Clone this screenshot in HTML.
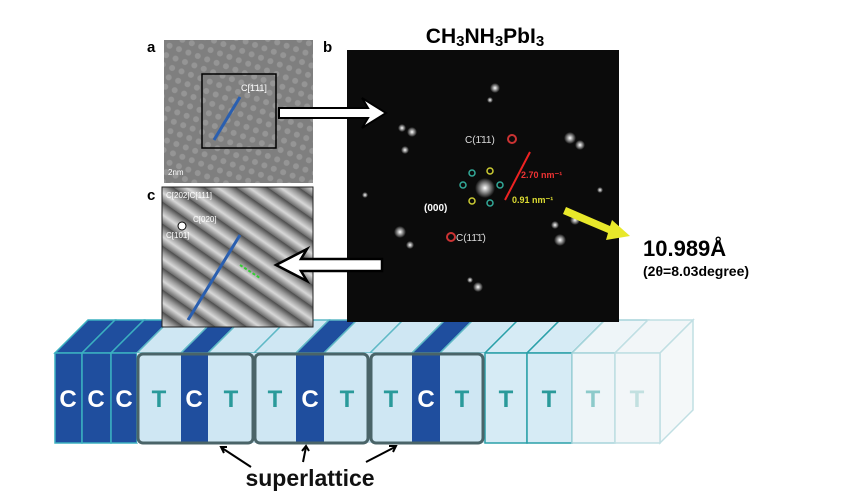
<!DOCTYPE html>
<html><head><meta charset="utf-8"><style>
html,body{margin:0;padding:0;background:#fff;width:845px;height:500px;overflow:hidden}
svg{display:block}
text{font-family:"Liberation Sans",sans-serif}
</style></head><body>
<svg width="845" height="500" viewBox="0 0 845 500" xmlns="http://www.w3.org/2000/svg">
<defs>
<pattern id="dots" width="10" height="10" patternUnits="userSpaceOnUse" patternTransform="rotate(20)">
<rect width="10" height="10" fill="#7f7f7f"/><circle cx="5" cy="5" r="3" fill="#959595"/>
</pattern>
<linearGradient id="sg" x1="0" y1="0" x2="0" y2="1">
<stop offset="0" stop-color="#4a4a4a"/><stop offset="0.3" stop-color="#9a9a9a"/><stop offset="0.6" stop-color="#d8d8d8"/><stop offset="1" stop-color="#6a6a6a"/>
</linearGradient>
<pattern id="stripes" width="18" height="18" patternUnits="userSpaceOnUse" patternTransform="rotate(35)">
<rect width="18" height="18" fill="url(#sg)"/>
</pattern>
<radialGradient id="star"><stop offset="0" stop-color="#fff"/><stop offset="1" stop-color="#fff" stop-opacity="0"/></radialGradient>
</defs>

<g stroke-width="1.5">
<g fill="#1f4e9e" stroke="#3bb0c0">
<polygon points="55,353 82,353 115,320 88,320"/><rect x="55" y="353" width="27" height="90"/>
<polygon points="82,353 111,353 144,320 115,320"/><rect x="82" y="353" width="29" height="90"/>
<polygon points="111,353 137,353 170,320 144,320"/><rect x="111" y="353" width="26" height="90"/>
</g>
<g stroke="#5fb9c6">
<polygon points="137,353 181,353 214,320 170,320" fill="#cfe7f3"/>
<polygon points="181,353 208,353 241,320 214,320" fill="#1f4e9e"/>
<polygon points="208,353 254,353 287,320 241,320" fill="#cfe7f3"/>
<polygon points="254,353 296,353 329,320 287,320" fill="#cfe7f3"/>
<polygon points="296,353 324,353 357,320 329,320" fill="#1f4e9e"/>
<polygon points="324,353 370,353 403,320 357,320" fill="#cfe7f3"/>
<polygon points="370,353 412,353 445,320 403,320" fill="#cfe7f3"/>
<polygon points="412,353 440,353 473,320 445,320" fill="#1f4e9e"/>
<polygon points="440,353 485,353 518,320 473,320" fill="#cfe7f3"/>
<polygon points="485,353 527,353 560,320 518,320" fill="#d6ebf5" stroke="#2aa0a8"/>
<polygon points="527,353 572,353 605,320 560,320" fill="#d6ebf5" stroke="#2aa0a8"/>
<polygon points="572,353 615,353 648,320 605,320" fill="#eef5f8" stroke="#a6d4da"/>
<polygon points="615,353 660,353 693,320 648,320" fill="#f2f6f8" stroke="#c0dfe3"/>
<polygon points="660,353 693,320 693,410 660,443" fill="#f4f8f9" stroke="#c0dfe3"/>
</g>
<rect x="137" y="353" width="44" height="90" fill="#cfe7f3"/>
<rect x="181" y="353" width="27" height="90" fill="#1f4e9e"/>
<rect x="208" y="353" width="46" height="90" fill="#cfe7f3"/>
<rect x="254" y="353" width="42" height="90" fill="#cfe7f3"/>
<rect x="296" y="353" width="28" height="90" fill="#1f4e9e"/>
<rect x="324" y="353" width="46" height="90" fill="#cfe7f3"/>
<rect x="370" y="353" width="42" height="90" fill="#cfe7f3"/>
<rect x="412" y="353" width="28" height="90" fill="#1f4e9e"/>
<rect x="440" y="353" width="45" height="90" fill="#cfe7f3"/>
<rect x="485" y="353" width="42" height="90" fill="#d6ebf5" stroke="#2aa0a8"/>
<rect x="527" y="353" width="45" height="90" fill="#d6ebf5" stroke="#2aa0a8"/>
<rect x="572" y="353" width="43" height="90" fill="#eef5f8" stroke="#a6d4da"/>
<rect x="615" y="353" width="45" height="90" fill="#f2f6f8" stroke="#c0dfe3"/>
<g fill="none" stroke="#4a6468" stroke-width="3">
<rect x="138" y="354" width="115" height="89" rx="5"/>
<rect x="255" y="354" width="113" height="89" rx="5"/>
<rect x="371" y="354" width="112" height="89" rx="5"/>
</g>
</g>
<g font-size="24" text-anchor="middle" font-weight="bold">
<g fill="#fff"><text x="68" y="407">C</text><text x="96" y="407">C</text><text x="124" y="407">C</text>
<text x="194" y="407">C</text><text x="310" y="407">C</text><text x="426" y="407">C</text></g>
<g fill="#2a9a9a"><text x="159" y="407">T</text><text x="231" y="407">T</text><text x="275" y="407">T</text><text x="347" y="407">T</text><text x="391" y="407">T</text><text x="462" y="407">T</text><text x="506" y="407">T</text><text x="549" y="407">T</text></g>
<text x="593" y="407" fill="#8ccaca">T</text><text x="637" y="407" fill="#c2e0e0">T</text>
</g>

<g stroke="#000" stroke-width="2" fill="none">
<line x1="251" y1="467" x2="222" y2="448"/><polyline points="227,447 221,447 224,453"/>
<line x1="303" y1="462" x2="306" y2="447"/><polyline points="302,451 306,446 309,451"/>
<line x1="366" y1="462" x2="395" y2="447"/><polyline points="389,446 396,446 393,452"/>
</g>
<text x="310" y="486" font-size="23" font-weight="bold" text-anchor="middle" fill="#111">superlattice</text>

<text x="147" y="52" font-family="Liberation Serif" font-weight="bold" font-size="15">a</text>
<rect x="164" y="40" width="149" height="143" fill="url(#dots)"/>
<rect x="202" y="74" width="74" height="74" fill="none" stroke="#000" stroke-width="1.5"/>
<line x1="214" y1="140" x2="240" y2="97" stroke="#2a5fb0" stroke-width="3"/>
<text x="241" y="91" font-family="Liberation Serif" font-size="9" fill="#fff">C[1̄11]</text>
<text x="168" y="175" font-family="Liberation Serif" font-size="8" fill="#fff">2nm</text>
<text x="147" y="200" font-family="Liberation Serif" font-weight="bold" font-size="15">c</text>
<rect x="162" y="187" width="151" height="140" fill="url(#stripes)" stroke="#222"/>
<line x1="188" y1="320" x2="240" y2="235" stroke="#2a5fb0" stroke-width="3"/>
<circle cx="182" cy="226" r="4" fill="#fff" stroke="#000"/>
<text x="166" y="198" font-family="Liberation Serif" font-size="8" fill="#fff">C[202]C[111]</text>
<text x="166" y="238" font-family="Liberation Serif" font-size="8" fill="#fff">C[101]</text>
<text x="193" y="222" font-family="Liberation Serif" font-size="8" fill="#fff">C[020]</text>
<line x1="240" y1="265" x2="260" y2="278" stroke="#3c3" stroke-width="2" stroke-dasharray="3,2"/>

<text x="323" y="52" font-family="Liberation Serif" font-weight="bold" font-size="15">b</text>
<rect x="347" y="50" width="272" height="272" fill="#0b0b0b"/>
<g fill="url(#star)">
<circle cx="485" cy="188" r="10"/><circle cx="412" cy="132" r="5"/><circle cx="570" cy="138" r="6"/><circle cx="495" cy="88" r="5"/>
<circle cx="400" cy="232" r="6"/><circle cx="560" cy="240" r="6"/><circle cx="478" cy="287" r="5"/><circle cx="405" cy="150" r="4"/><circle cx="575" cy="220" r="5"/>
<circle cx="402" cy="128" r="4"/><circle cx="410" cy="245" r="4"/><circle cx="580" cy="145" r="5"/><circle cx="555" cy="225" r="4"/><circle cx="490" cy="100" r="3"/><circle cx="470" cy="280" r="3"/><circle cx="365" cy="195" r="3"/><circle cx="600" cy="190" r="3"/>
</g>
<circle cx="512" cy="139" r="4" fill="none" stroke="#c33" stroke-width="2"/>
<circle cx="451" cy="237" r="4" fill="none" stroke="#c33" stroke-width="2"/>
<g fill="none" stroke="#3a9" stroke-width="1.5"><circle cx="472" cy="173" r="3"/><circle cx="463" cy="185" r="3"/><circle cx="500" cy="185" r="3"/><circle cx="490" cy="203" r="3"/></g>
<g fill="none" stroke="#cc3" stroke-width="1.5"><circle cx="490" cy="171" r="3"/><circle cx="472" cy="201" r="3"/></g>
<line x1="505" y1="200" x2="530" y2="152" stroke="#e22" stroke-width="2"/>
<text x="465" y="143" font-family="Liberation Serif" font-size="10" fill="#ddd">C(1̄11)</text>
<text x="456" y="241" font-family="Liberation Serif" font-size="10" fill="#ddd">C(11̄1̄)</text>
<text x="424" y="211" font-family="Liberation Serif" font-size="10" fill="#fff" font-weight="bold">(000)</text>
<text x="521" y="178" font-family="Liberation Serif" font-size="9" fill="#e33" font-weight="bold">2.70 nm⁻¹</text>
<text x="512" y="203" font-family="Liberation Serif" font-size="9" fill="#dd3" font-weight="bold">0.91 nm⁻¹</text>
<polygon points="566,207 610,226 612,220 630,236 606,240 608,233 563,214" fill="#e8e82a"/>
<text x="485" y="43" font-size="21" font-weight="bold" text-anchor="middle">CH<tspan font-size="15" dy="3">3</tspan><tspan dy="-3">NH</tspan><tspan font-size="15" dy="3">3</tspan><tspan dy="-3">PbI</tspan><tspan font-size="15" dy="3">3</tspan></text>
<text x="643" y="256" font-size="22" font-weight="bold">10.989Å</text>
<text x="643" y="276" font-size="14" font-weight="bold">(2θ=8.03degree)</text>

<polygon points="279,108 368,108 362,98 386,113 362,128 368,118 279,118" fill="#fff" stroke="#000" stroke-width="2"/>
<polygon points="382,259 301,259 307,249 276,265 307,281 301,271 382,271" fill="#fff" stroke="#000" stroke-width="2.5"/>
</svg>
</body></html>
